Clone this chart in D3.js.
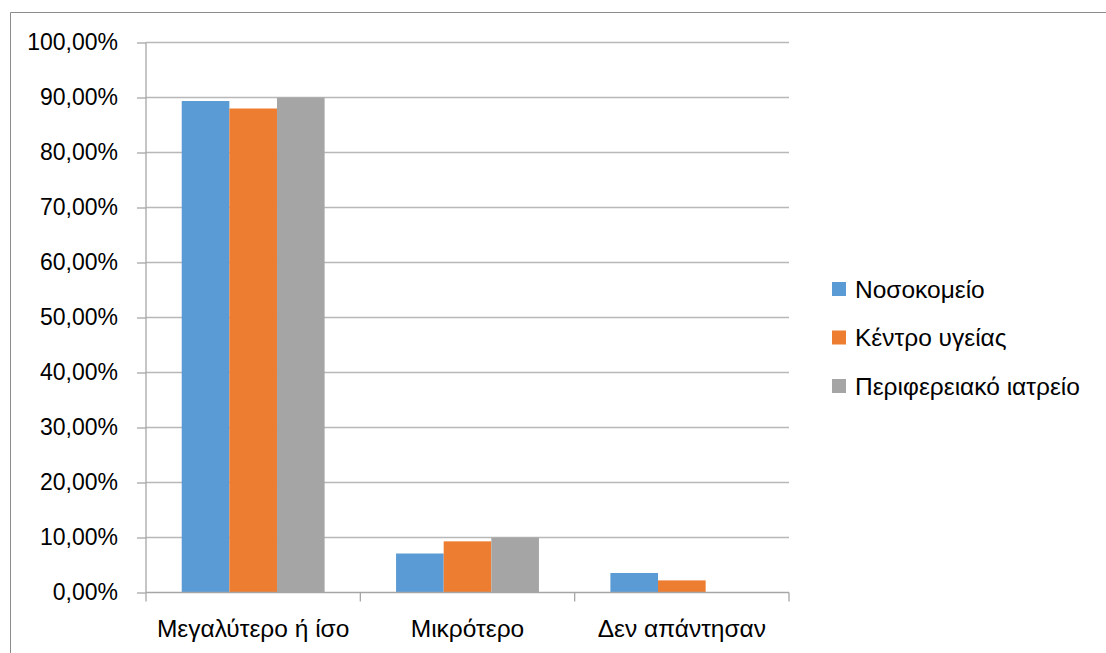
<!DOCTYPE html>
<html><head><meta charset="utf-8">
<script src="https://cdn.jsdelivr.net/npm/d3@7"></script>
<style>body{margin:0;background:#fff;} svg{display:block;font-family:"Liberation Sans",Arial,sans-serif;}</style>
</head><body>
<svg id="c" width="1106" height="653"></svg>
<script>
const categories = ["Μεγαλύτερο ή ίσο", "Μικρότερο", "Δεν απάντησαν"];
const seriesNames = ["Νοσοκομείο", "Κέντρο υγείας", "Περιφερειακό ιατρείο"];
const nosokomeio = [0.8936, 0.0709, 0.0355];
const kentroYgeias = [0.8800, 0.0930, 0.0220];
const periferiako = [0.9000, 0.1000, 0.0];
const seriesColors = ["#5b9bd5", "#ed7d31", "#a5a5a5"];
const yTicks = [0, 0.1, 0.2, 0.3, 0.4, 0.5, 0.6, 0.7, 0.8, 0.9, 1.0];

const seriesValues = [nosokomeio, kentroYgeias, periferiako];
const svg = d3.select("#c");
// outer chart border (top and left visible)
svg.append("path").attr("d","M10.5,653 V12.5 H1106").attr("fill","none").attr("stroke","#8c8c8c").attr("stroke-width",1);

const x0 = d3.scaleBand().domain(categories).range([146, 789]).paddingInner(0).paddingOuter(0);
const y = d3.scaleLinear().domain([0, 1]).range([592.5, 42.5]);
const x1 = d3.scaleBand().domain(seriesNames).range([0, x0.bandwidth()]).paddingOuter(0.75).paddingInner(0);

const fmt = v => d3.format(".2f")(v*100).replace(".", ",") + "%";

// gridlines
svg.append("g").selectAll("line").data(yTicks.filter(d=>d>0)).join("line")
  .attr("x1",146).attr("x2",789).attr("y1",d=>y(d)).attr("y2",d=>y(d))
  .attr("stroke","#b8b8b8").attr("stroke-width",1.3);

// bars
const g = svg.append("g");
categories.forEach((c, ci) => {
  seriesNames.forEach((s, si) => {
    const v = seriesValues[si][ci];
    if (v <= 0) return;
    g.append("rect").attr("x", x0(c) + x1(s)).attr("width", x1.bandwidth())
      .attr("y", y(v)).attr("height", y(0) - y(v)).attr("fill", seriesColors[si]);
  });
});

// y axis
const yAxis = d3.axisLeft(y).tickValues(yTicks).tickFormat(fmt).tickSize(9).tickPadding(19);
const ya = svg.append("g").attr("transform","translate(146,0)").call(yAxis);
ya.select(".domain").attr("stroke","#a6a6a6").attr("stroke-width",1.3).attr("d","M0,42.5V592.5");
ya.selectAll(".tick line").attr("stroke","#a6a6a6").attr("stroke-width",1.3);
ya.selectAll(".tick text").attr("font-size",23).attr("fill","#000").attr("font-family","Liberation Sans, Arial, sans-serif");

// x axis
const xAxis = d3.axisBottom(x0).tickSize(0).tickPadding(27);
const xa = svg.append("g").attr("transform","translate(0,592.5)").call(xAxis);
xa.select(".domain").attr("stroke","#a6a6a6").attr("stroke-width",1.3).attr("d","M146,0H789");
xa.selectAll(".tick text").attr("font-size",24.5).attr("fill","#000").attr("font-family","Liberation Sans, Arial, sans-serif");
// category boundary ticks
const bounds = categories.map(c => x0(c)).concat([x0(categories[categories.length-1]) + x0.bandwidth()]);
xa.append("g").selectAll("line").data(bounds).join("line")
  .attr("x1",d=>d).attr("x2",d=>d).attr("y1",0).attr("y2",9)
  .attr("stroke","#a6a6a6").attr("stroke-width",1.3);

// legend
const lg = svg.append("g").attr("transform","translate(832,289)");
seriesNames.forEach((s, i) => {
  const row = lg.append("g").attr("transform", `translate(0,${i*48.5})`);
  row.append("rect").attr("x",0).attr("y",-7).attr("width",14).attr("height",14).attr("fill",seriesColors[i]);
  row.append("text").attr("x",23).attr("y",0).attr("dy","0.35em").attr("font-size",24.5).attr("fill","#000").text(s);
});
</script>
</body></html>
